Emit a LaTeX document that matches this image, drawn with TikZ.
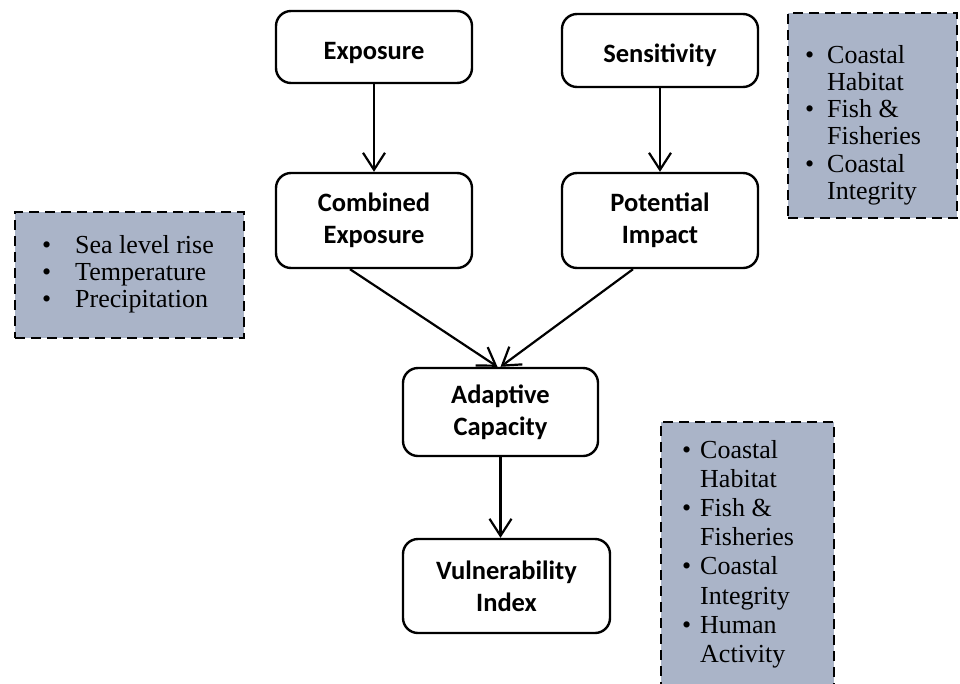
\documentclass[tikz,border=0pt]{standalone}
\usepackage{fontspec}
\setmainfont{Liberation Serif}
\newfontfamily\boxfont{Carlito}
\usetikzlibrary{arrows.meta,calc}
\definecolor{panelfill}{RGB}{170,180,200}
\begin{document}
\begin{tikzpicture}[x=1pt,y=-1pt,
  stage/.style={draw, line width=2.4pt, rounded corners=15pt, fill=white, align=center,
    font=\boxfont\bfseries\fontsize{26.5}{32}\selectfont, inner sep=0pt},
  panel/.style={draw, dash pattern=on 10pt off 6pt, line width=2.4pt, fill=panelfill, inner sep=0pt},
  listtext/.style={font=\fontsize{26}{27.3}\selectfont, inner sep=0pt, anchor=base west},
  flow/.style={line width=2.2pt, -{Straight Barb[length=17pt,width=22pt,line width=2.2pt]}}]
\useasboundingbox (0,0) rectangle (960,683);

% dashed panels
\node[panel, minimum width=229pt, minimum height=126pt] (pleft) at (129.5,275) {};
\node[listtext] (pleftt) at (42,253) {\begin{tabular}[t]{@{}l@{}}
\makebox[33pt][l]{\textbullet}Sea level rise\\
\makebox[33pt][l]{\textbullet}Temperature\\
\makebox[33pt][l]{\textbullet}Precipitation
\end{tabular}};

\node[panel, minimum width=169pt, minimum height=205pt] (ptop) at (872.5,115.5) {};
\node[listtext] (ptopt) at (805,63) {\begin{tabular}[t]{@{}l@{}}
\makebox[22pt][l]{\textbullet}Coastal\\
\hspace*{22pt}Habitat\\
\makebox[22pt][l]{\textbullet}Fish \&\\
\hspace*{22pt}Fisheries\\
\makebox[22pt][l]{\textbullet}Coastal\\
\hspace*{22pt}Integrity
\end{tabular}};

\node[panel, minimum width=173pt, minimum height=290pt, anchor=north west] (pbot) at (660,421) {};
\node[listtext, font=\fontsize{26}{29.2}\selectfont] (pbott) at (682,458) {\begin{tabular}[t]{@{}l@{}}
\makebox[18pt][l]{\textbullet}Coastal\\
\hspace*{18pt}Habitat\\
\makebox[18pt][l]{\textbullet}Fish \&\\
\hspace*{18pt}Fisheries\\
\makebox[18pt][l]{\textbullet}Coastal\\
\hspace*{18pt}Integrity\\
\makebox[18pt][l]{\textbullet}Human\\
\hspace*{18pt}Activity
\end{tabular}};

% stage boxes
\node[stage, minimum width=196pt, minimum height=72pt] (expo) at (374,47) {\rule{0pt}{29pt}Exposure};
\node[stage, minimum width=196pt, minimum height=73pt] (sens) at (660,50.5) {\rule{0pt}{29pt}Sensitivity};
\node[stage, minimum width=196pt, minimum height=95pt] (comb) at (374,220.5) {Combined\\Exposure};
\node[stage, minimum width=196pt, minimum height=95pt] (pot) at (660,220.5) {Potential\\Impact};
\node[stage, minimum width=195pt, minimum height=88pt] (adapt) at (500.5,412) {Adaptive\\Capacity};
\node[stage, minimum width=207pt, minimum height=94pt] (vuln) at (506.5,586) {Vulnerability\\Index};

% connectors
\draw[flow] (expo) -- (comb);
\draw[flow] (sens) -- (sens.south |- pot.north);
\draw[flow] ([xshift=-24pt]comb.south) -- ([xshift=-3pt]adapt.north);
\draw[flow] ([xshift=-27pt]pot.south) -- (adapt.north);
\draw[flow] (adapt) -- (adapt.south |- vuln.north);
\end{tikzpicture}
\end{document}
